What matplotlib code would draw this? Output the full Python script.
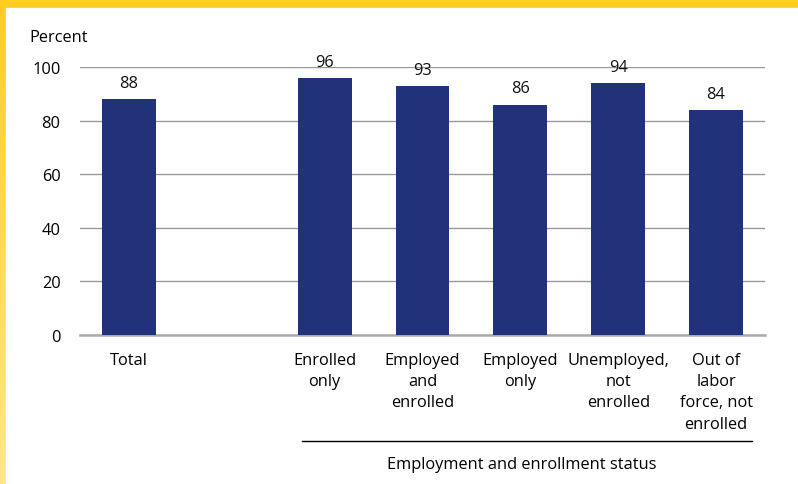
import matplotlib.pyplot as plt
import numpy as np
from matplotlib.colors import LinearSegmentedColormap

# Data
categories = ["Total", "", "Enrolled\nonly", "Employed\nand\nenrolled",
              "Employed\nonly", "Unemployed,\nnot\nenrolled",
              "Out of\nlabor\nforce, not\nenrolled"]
values = [88, None, 96, 93, 86, 94, 84]
y_ticks = [0, 20, 40, 60, 80, 100]
group_title = "Employment and enrollment status"

plt.rcParams['font.family'] = ['Open Sans', 'DejaVu Sans']
fs = 11.8

fig = plt.figure(figsize=(7.98, 4.85), dpi=100)

# Yellow frame (top and left), fading downwards
frame = LinearSegmentedColormap.from_list("frame", ["#FFCD1F", "#FFE68C"])
grad = np.linspace(0, 1, 256).reshape(-1, 1)
ax_bg = fig.add_axes([0, 0, 1, 1], zorder=-5)
ax_bg.imshow(grad, aspect='auto', cmap=frame, extent=[0, 1, 0, 1], origin='upper')
ax_bg.add_patch(plt.Rectangle((6 / 798, 0), 1, 1 - 9 / 485, color='white'))
ax_bg.set_xlim(0, 1)
ax_bg.set_ylim(0, 1)
ax_bg.axis('off')

# Main axes
ax = fig.add_axes([80 / 798, 1 - 336 / 485, 685 / 798, 268 / 485])
x = np.arange(len(categories))
for xi, v in zip(x, values):
    if v is None:
        continue
    ax.bar(xi, v, width=0.55, color='#21317A', zorder=3)
    ax.text(xi, v + 3, str(v), ha='center', va='bottom', fontsize=fs, color='#111111')

ax.set_xlim(-0.5, len(categories) - 0.5)
ax.set_ylim(0, 100)
ax.set_yticks(y_ticks)
ax.tick_params(axis='y', length=0, labelsize=fs, pad=14)
ax.tick_params(axis='x', length=0, labelsize=fs, pad=12)
ax.set_xticks(x)
ax.set_xticklabels(categories, linespacing=1.45, va='top')
ax.yaxis.grid(True, color='#999999', linewidth=1)
ax.set_axisbelow(True)
for s in ['top', 'right', 'left']:
    ax.spines[s].set_visible(False)
ax.spines['bottom'].set_color('#AAAAAA')
ax.spines['bottom'].set_linewidth(1.8)

fig.text(29 / 798, 1 - 38 / 485, "Percent", ha='left', va='center', fontsize=fs)

# Group bracket line and title
fig.add_artist(plt.Line2D([302 / 798, 752 / 798], [1 - 442 / 485] * 2,
                          color='black', linewidth=1))
fig.text(522 / 798, 1 - 465 / 485, group_title, ha='center', va='center', fontsize=fs)

fig.savefig("out.png", dpi=100)
